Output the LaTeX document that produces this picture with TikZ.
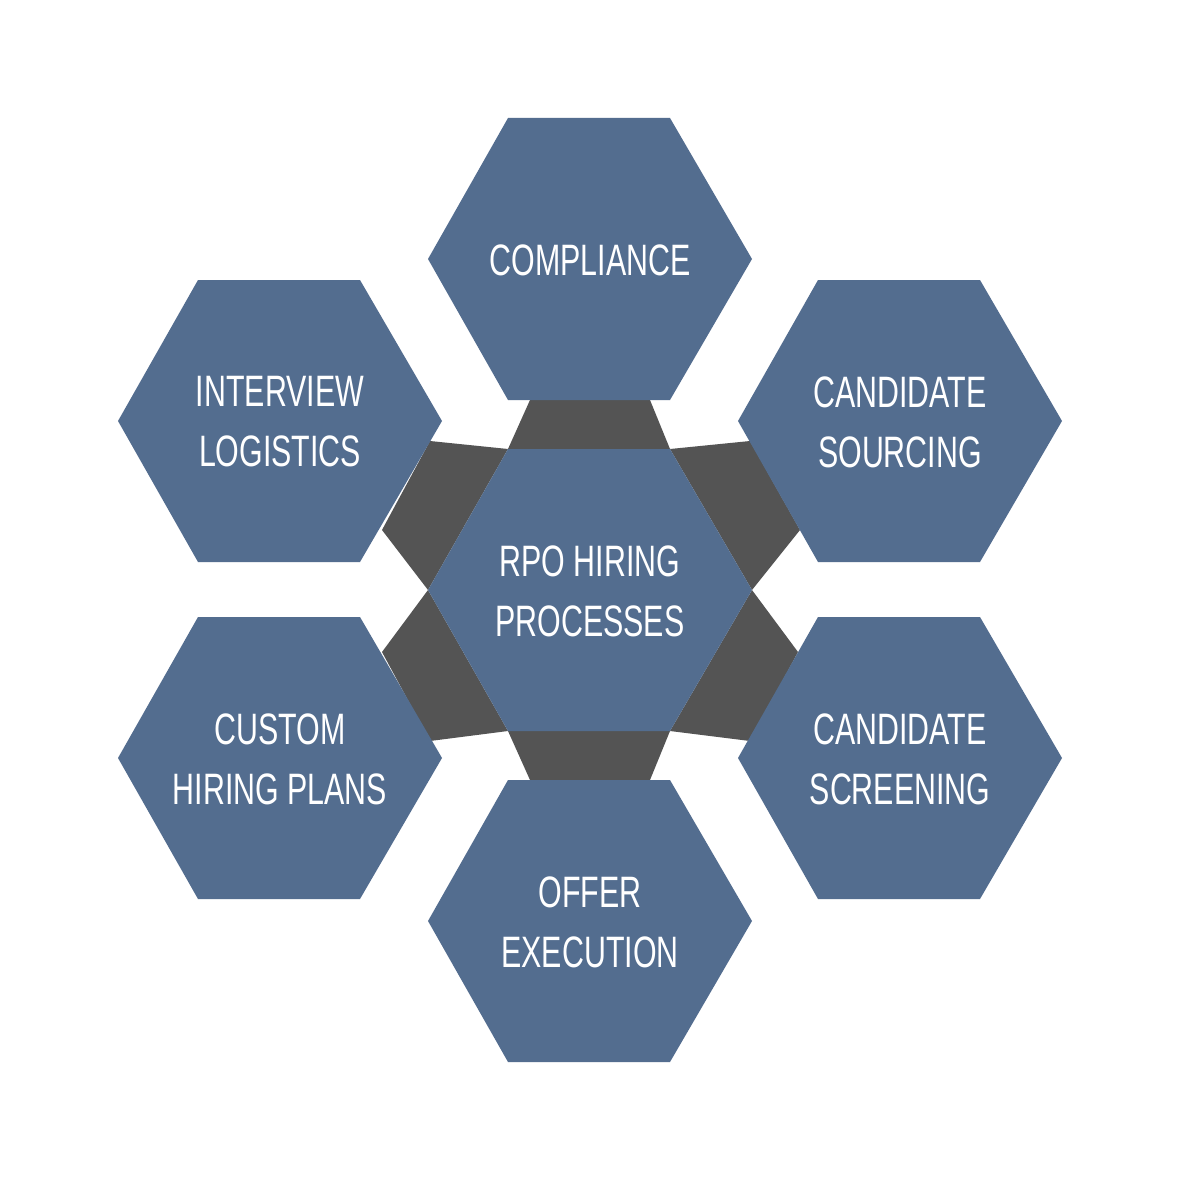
\documentclass[tikz,border=0pt]{standalone}
\usepackage{fontspec}
\setmainfont{Liberation Sans}
\begin{document}
\begin{tikzpicture}[x=1pt,y=-1pt]
\definecolor{hexblue}{HTML}{536D8F}
\definecolor{darkband}{HTML}{545454}
\tikzset{lbl/.style={text=white,align=center,font=\fontsize{44}{60}\selectfont},
 band/.style={fill=darkband,draw=none}}
\newcommand{\nar}[1]{\scalebox{0.69}[1]{#1}}
\useasboundingbox (0,0) rectangle (1180,1180);
\fill[white] (0,0) rectangle (1180,1180);
\fill[band] (530,400)--(650,400)--(670,449)--(508,449)--cycle;
\fill[band] (670,449)--(750,441)--(800,530)--(752,590)--cycle;
\fill[band] (752,590)--(798,652)--(750,741)--(670,731)--cycle;
\fill[band] (670,731)--(650,780)--(530,780)--(508,731)--cycle;
\fill[band] (508,731)--(430,741)--(382,652)--(428,590)--cycle;
\fill[band] (428,590)--(382,530)--(430,441)--(508,449)--cycle;
\foreach \n/\cx/\cy in {c/590/590,t/590/259,ur/900/421,lr/900/758,b/590/921,ul/280/421,ll/280/758}{
  \fill[hexblue] (\cx-162,\cy)--(\cx-82,\cy-141)--(\cx+80,\cy-141)--(\cx+162,\cy)--(\cx+80,\cy+141)--(\cx-82,\cy+141)--cycle;
  \coordinate (\n) at (\cx,\cy);
}
\node[lbl] (tc) at ([yshift=-1]c) {\nar{RPO HIRING}\\\nar{PROCESSES}};
\node[lbl] (tt) at ([yshift=-1]t) {\nar{COMPLIANCE}};
\node[lbl] (tur) at ([yshift=-1]ur) {\nar{CANDIDATE}\\\nar{SOURCING}};
\node[lbl] (tlr) at ([yshift=-1]lr) {\nar{CANDIDATE}\\\nar{SCREENING}};
\node[lbl] (tb) at ([yshift=-1]b) {\nar{OFFER}\\\nar{EXECUTION}};
\node[lbl] (tul) at ([yshift=-1]ul) {\nar{INTERVIEW}\\\nar{LOGISTICS}};
\node[lbl] (tll) at ([yshift=-1]ll) {\nar{CUSTOM}\\\nar{HIRING PLANS}};
\end{tikzpicture}
\end{document}
